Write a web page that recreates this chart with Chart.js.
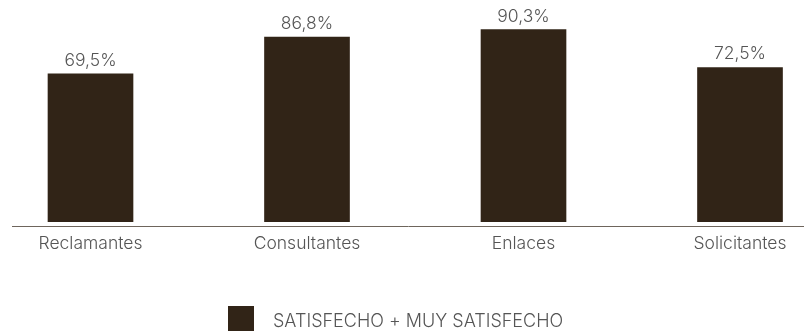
<!DOCTYPE html>
<html>
<head>
<meta charset="utf-8">
<script src="https://cdn.jsdelivr.net/npm/chart.js@4/dist/chart.umd.min.js"></script>
<style>
  html, body { margin: 0; padding: 0; background: #fff; overflow: hidden; }
  #box { position: relative; width: 804px; height: 331px; }
</style>
</head>
<body>
<div id="box"><canvas id="satisfaccion"></canvas></div>
<script>
const categorias = ["Reclamantes", "Consultantes", "Enlaces", "Solicitantes"];
const satisfechos = [69.5, 86.8, 90.3, 72.5];
const serie = "SATISFECHO + MUY SATISFECHO";

const barColor = "#312417";
const textColor = "#555555";
const fontFamily = "Inter, Roboto, 'Liberation Sans', sans-serif";
const font = "300 17.5px " + fontFamily;

// percentages with a decimal comma above each bar
const valueLabels = {
  id: "valueLabels",
  afterDatasetsDraw(chart) {
    const ctx = chart.ctx;
    const meta = chart.getDatasetMeta(0);
    ctx.save();
    ctx.font = font;
    ctx.fillStyle = textColor;
    ctx.textAlign = "center";
    ctx.textBaseline = "alphabetic";
    meta.data.forEach((bar, i) => {
      const txt = satisfechos[i].toFixed(1).replace(".", ",") + "%";
      ctx.fillText(txt, bar.x, bar.y - 8);
    });
    ctx.restore();
  }
};

// single legend entry under the axis, wider gap between swatch and text
const legendBelow = {
  id: "legendBelow",
  afterDraw(chart) {
    const ctx = chart.ctx;
    const box = 26, gap = 19;
    ctx.save();
    ctx.font = "300 18px " + fontFamily;
    const tw = ctx.measureText(serie).width;
    const x0 = Math.round(chart.width / 2 - (box + gap + tw) / 2 - 6);
    const y0 = Math.round(chart.chartArea.bottom + 80);
    ctx.fillStyle = barColor;
    ctx.fillRect(x0, y0, box, box);
    ctx.fillStyle = textColor;
    ctx.textAlign = "left";
    ctx.textBaseline = "middle";
    ctx.fillText(serie, x0 + box + gap, y0 + 16);
    ctx.restore();
  }
};

new Chart(document.getElementById("satisfaccion"), {
  type: "bar",
  data: {
    datasets: [{
      label: serie,
      data: satisfechos.map((v, i) => ({ x: i, y: v })),
      backgroundColor: barColor,
      borderWidth: 0,
      barThickness: 85
    }]
  },
  options: {
    responsive: true,
    maintainAspectRatio: false,
    animation: false,
    layout: { padding: { top: 9, left: 12, right: 0, bottom: 0 } },
    scales: {
      x: {
        type: "linear",
        offset: false,
        min: -0.3626,
        max: 3.2956,
        grid: { display: false },
        border: { display: true, color: "#6e655c", width: 1 },
        afterBuildTicks(scale) {
          scale.ticks = categorias.map((_, i) => ({ value: i }));
        },
        afterFit(scale) {
          scale.height = 105;
        },
        ticks: {
          autoSkip: false,
          maxRotation: 0,
          padding: -1,
          color: textColor,
          font: { family: fontFamily, size: 17.5, weight: 300 },
          callback: (v) => categorias[v] ?? ""
        }
      },
      y: {
        display: false,
        min: -2.02,
        max: 100
      }
    },
    plugins: {
      legend: { display: false },
      tooltip: { enabled: false }
    }
  },
  plugins: [valueLabels, legendBelow]
});
</script>
</body>
</html>
